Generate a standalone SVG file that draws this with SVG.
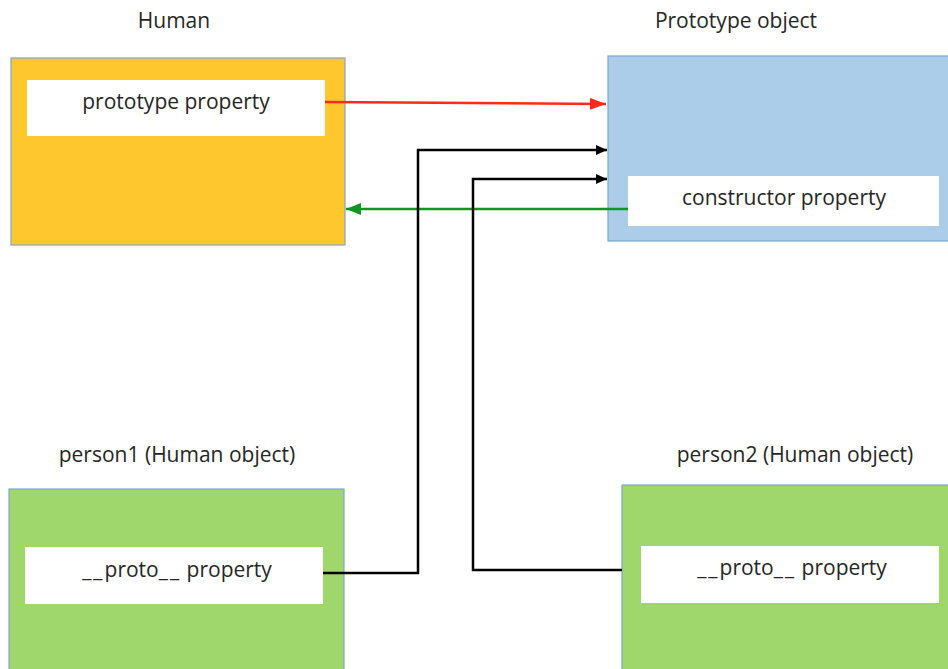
<svg xmlns="http://www.w3.org/2000/svg" width="948" height="669" viewBox="0 0 948 669">
<style>
text{font-family:"Open Sans","Liberation Sans",sans-serif;font-size:21px;fill:#262626;text-anchor:middle}
.u{letter-spacing:2px}
.box{stroke:#7EA6CF;stroke-width:1.2}
.inner{fill:#fff}
.conn{fill:none;stroke-width:2.5}
</style>
<defs>
<marker id="ar" markerWidth="16" markerHeight="12" refX="16" refY="6" orient="auto" markerUnits="userSpaceOnUse"><path d="M0,0 L16,6 L0,12 Z" fill="#FF2A1A"/></marker>
<marker id="ab" markerWidth="11" markerHeight="10" refX="11" refY="5" orient="auto" markerUnits="userSpaceOnUse"><path d="M0,0 L11,5 L0,10 Z" fill="#000"/></marker>
<marker id="ag" markerWidth="15" markerHeight="12" refX="15" refY="6" orient="auto" markerUnits="userSpaceOnUse"><path d="M0,0 L15,6 L0,12 Z" fill="#129423"/></marker>
</defs>
<rect width="948" height="669" fill="#fff"/>
<g id="human">
<text x="174" y="28">Human</text>
<rect class="box" x="11" y="58" width="334" height="187" fill="#FFC72E"/>
<rect class="inner" x="27" y="80" width="298" height="56"/>
<text x="176" y="109">prototype property</text>
</g>
<g id="prototype">
<text x="736" y="28">Prototype object</text>
<rect class="box" x="608" y="56" width="345" height="185" fill="#ABCDE9"/>
<rect class="inner" x="628" y="176" width="311" height="50"/>
<text x="784" y="205">constructor property</text>
</g>
<g id="person1">
<text x="177" y="462">person1 (Human object)</text>
<rect class="box" x="9" y="489" width="335" height="190" fill="#A0D76C"/>
<rect class="inner" x="25" y="547" width="298" height="57"/>
<text x="177" y="577"><tspan class="u">__</tspan>proto<tspan class="u">__</tspan> property</text>
</g>
<g id="person2">
<text x="795" y="462">person2 (Human object)</text>
<rect class="box" x="622" y="485" width="340" height="194" fill="#A0D76C"/>
<rect class="inner" x="641" y="546" width="298" height="57"/>
<text x="792" y="575"><tspan class="u">__</tspan>proto<tspan class="u">__</tspan> property</text>
</g>
<g id="connectors">
<path class="conn" d="M325,102 L606,104" stroke="#FF2A1A" marker-end="url(#ar)"/>
<path class="conn" d="M628,209 L346,209" stroke="#129423" marker-end="url(#ag)"/>
<path class="conn" d="M323,573 L418,573 L418,150 L607,150" stroke="#000" marker-end="url(#ab)"/>
<path class="conn" d="M622,570 L473,570 L473,179 L607,179" stroke="#000" marker-end="url(#ab)"/>
</g>
</svg>
